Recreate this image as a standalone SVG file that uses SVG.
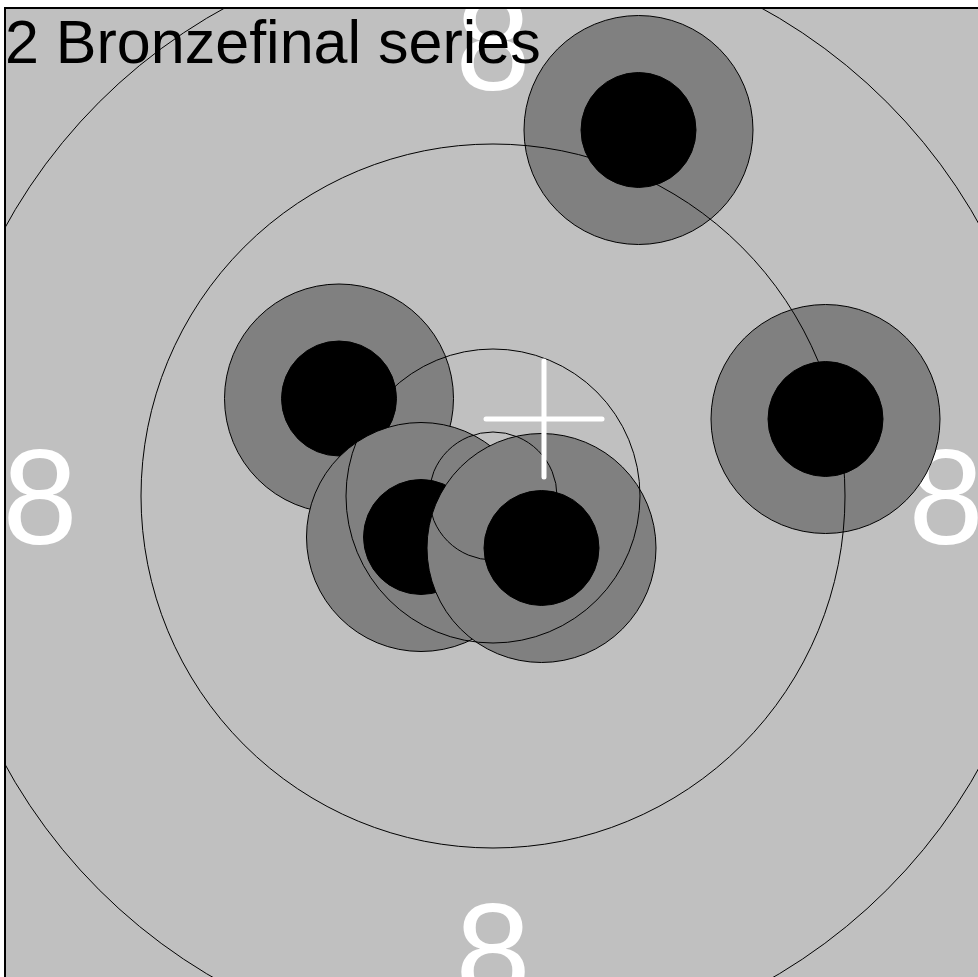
<svg xmlns="http://www.w3.org/2000/svg" width="978" height="977" viewBox="0 0 978 977">
<style>
.num{font-family:"Liberation Sans",Arial,sans-serif;font-size:135px;fill:#fff;text-anchor:middle}
.title{font-family:"Liberation Sans",Arial,sans-serif;font-size:61px;fill:#000}
.ring{fill:none;stroke:#000;stroke-width:1}
.outer{fill:#808080;stroke:#000;stroke-width:1}
.inner{fill:#000;stroke:#000;stroke-width:1}
.cross{stroke:#fff;stroke-width:5;stroke-linecap:round}
</style>
<defs>
<clipPath id="area"><rect x="6" y="9" width="1000" height="1000"/></clipPath>
</defs>
<rect x="0" y="0" width="978" height="977" fill="#fff"/>
<rect x="5" y="8" width="1000" height="1000" fill="#c0c0c0" stroke="#000" stroke-width="2"/>
<g clip-path="url(#area)">
<g id="numbers">
<text class="num" x="493" y="90">8</text>
<text class="num" x="40" y="544">8</text>
<text class="num" x="946" y="544">8</text>
<text class="num" x="493" y="998">8</text>
</g>
<g id="shot1"><circle class="outer" cx="638.5" cy="130" r="114.5"/><circle class="inner" cx="638.5" cy="130" r="57.5"/></g>
<g id="shot2"><circle class="outer" cx="339" cy="398.5" r="114.5"/><circle class="inner" cx="339" cy="398.5" r="57.5"/></g>
<g id="shot3"><circle class="outer" cx="825.5" cy="419" r="114.5"/><circle class="inner" cx="825.5" cy="419" r="57.5"/></g>
<g id="shot4"><circle class="outer" cx="421" cy="537" r="114.5"/><circle class="inner" cx="421" cy="537" r="57.5"/></g>
<g id="shot5"><circle class="outer" cx="541.5" cy="548" r="114.5"/><circle class="inner" cx="541.5" cy="548" r="57.5"/></g>
<g id="rings">
<circle class="ring" cx="493" cy="496" r="557"/>
<circle class="ring" cx="493" cy="496" r="352"/>
<circle class="ring" cx="493" cy="496" r="147"/>
<circle class="ring" cx="493" cy="496" r="64"/>
</g>
<g id="cross">
<line class="cross" x1="486" y1="419" x2="602" y2="419"/>
<line class="cross" x1="544" y1="361" x2="544" y2="477"/>
</g>
<text class="title" x="5" y="63">2 Bronzefinal series</text>
</g>
</svg>
